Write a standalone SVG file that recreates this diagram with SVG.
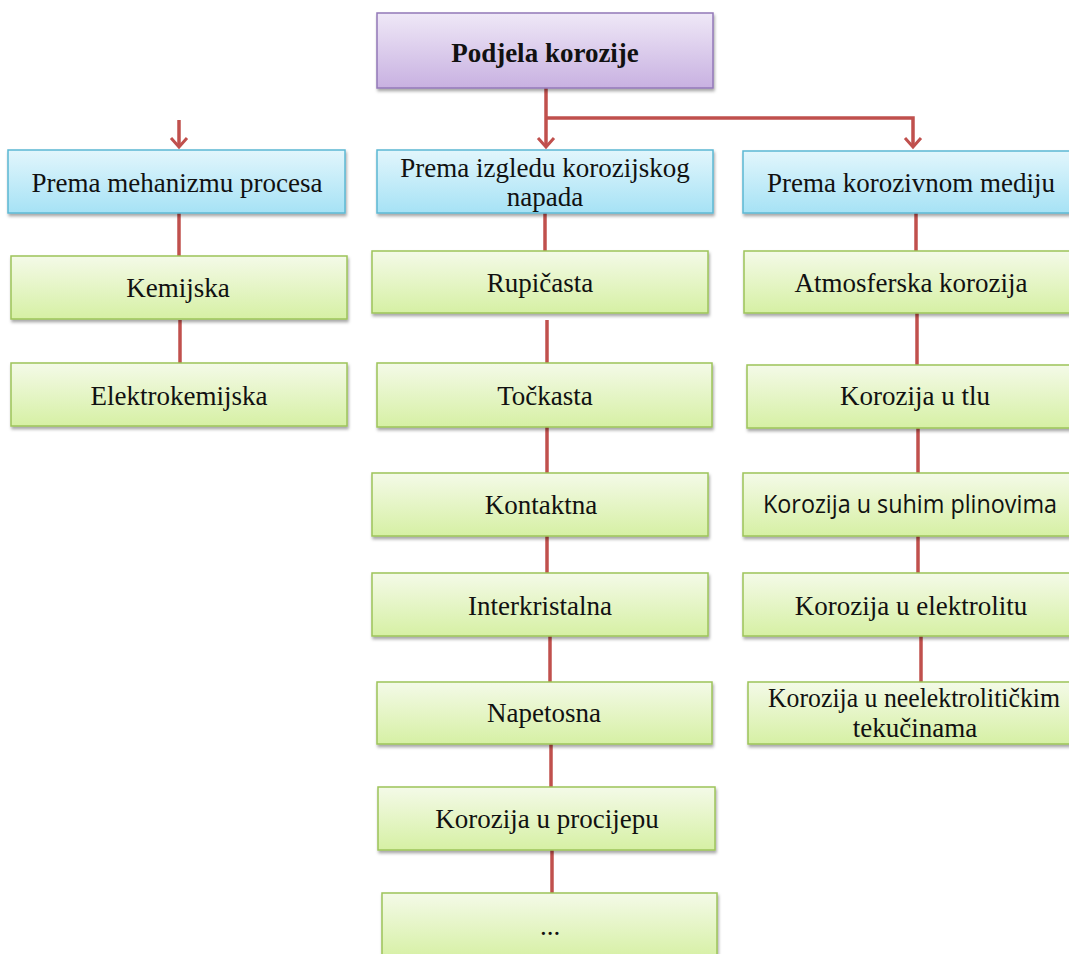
<svg xmlns="http://www.w3.org/2000/svg" width="1069" height="954" viewBox="0 0 1069 954">
<defs>
<linearGradient id="gPurple" x1="0" y1="0" x2="0" y2="1"><stop offset="0" stop-color="#efe8f7"/><stop offset="1" stop-color="#c8b1e1"/></linearGradient>
<linearGradient id="gBlue" x1="0" y1="0" x2="0" y2="1"><stop offset="0" stop-color="#e2f6fc"/><stop offset="1" stop-color="#a6e2f5"/></linearGradient>
<linearGradient id="gGreen" x1="0" y1="0" x2="0" y2="1"><stop offset="0" stop-color="#f4fae8"/><stop offset="1" stop-color="#d6f0a4"/></linearGradient>
<filter id="sh" x="-5%" y="-20%" width="110%" height="150%"><feDropShadow dx="1" dy="2.5" stdDeviation="1.5" flood-color="#000" flood-opacity="0.35"/></filter>
<marker id="arr" markerWidth="14" markerHeight="20" refX="11" refY="10" orient="auto" markerUnits="userSpaceOnUse" viewBox="0 0 14 20"><path d="M2,2 L11,10 L2,18" fill="none" stroke="#c0504d" stroke-width="3"/></marker>
</defs>
<style>
.p{fill:url(#gPurple);stroke:#9378b8;stroke-width:1.5;filter:url(#sh)}
.b{fill:url(#gBlue);stroke:#5cb8d3;stroke-width:1.5;filter:url(#sh)}
.g{fill:url(#gGreen);stroke:#9dc45a;stroke-width:1.5;filter:url(#sh)}
.t{font-family:"Liberation Serif","Times New Roman",serif;font-size:27px;fill:#111;text-anchor:middle}
.tb{font-weight:bold}
.s{font-family:"Open Sans","Liberation Sans",sans-serif;font-size:26px;fill:#111;text-anchor:middle}
.c{fill:none;stroke:#c0504d;stroke-width:3.5}
</style>
<rect width="1069" height="954" fill="#fff"/>
<g id="connectors">
<path class="c" d="M546,88 V147" marker-end="url(#arr)"/>
<path class="c" d="M546,118 H913 V147" marker-end="url(#arr)"/>
<path class="c" d="M179,120 V147" marker-end="url(#arr)"/>
<path class="c" d="M179,213 V256"/>
<path class="c" d="M180,320 V363"/>
<path class="c" d="M545,213 V251"/>
<path class="c" d="M547,320 V363"/>
<path class="c" d="M547,427 V473"/>
<path class="c" d="M547,536 V573"/>
<path class="c" d="M550,636 V682"/>
<path class="c" d="M551,744 V787"/>
<path class="c" d="M552,850 V893"/>
<path class="c" d="M916,213 V251"/>
<path class="c" d="M917,313 V365"/>
<path class="c" d="M918,428 V473"/>
<path class="c" d="M918,536 V573"/>
<path class="c" d="M921,636 V682"/>
</g>
<g id="root"><rect class="p" x="377" y="13" width="336" height="75"/><text class="t tb" x="545" y="62">Podjela korozije</text></g>
<g id="mehanizam"><rect class="b" x="8" y="150" width="337" height="63"/><text class="t" x="177" y="192">Prema mehanizmu procesa</text></g>
<g id="kemijska"><rect class="g" x="11" y="256" width="336" height="63"/><text class="t" x="178" y="297">Kemijska</text></g>
<g id="elektrokemijska"><rect class="g" x="11" y="363" width="336" height="63"/><text class="t" x="179" y="405">Elektrokemijska</text></g>
<g id="izgled"><rect class="b" x="377" y="150" width="336" height="63"/><text class="t" x="545" y="177">Prema izgledu korozijskog</text><text class="t" x="545" y="206">napada</text></g>
<g id="rupicasta"><rect class="g" x="372" y="251" width="336" height="62"/><text class="t" x="540" y="292">Rupičasta</text></g>
<g id="tockasta"><rect class="g" x="377" y="363" width="335" height="64"/><text class="t" x="545" y="405">Točkasta</text></g>
<g id="kontaktna"><rect class="g" x="372" y="473" width="336" height="63"/><text class="t" x="541" y="514">Kontaktna</text></g>
<g id="interkristalna"><rect class="g" x="372" y="573" width="336" height="63"/><text class="t" x="540" y="615">Interkristalna</text></g>
<g id="napetosna"><rect class="g" x="377" y="682" width="335" height="62"/><text class="t" x="544" y="722">Napetosna</text></g>
<g id="procijep"><rect class="g" x="378" y="787" width="337" height="63"/><text class="t" x="547" y="828">Korozija  u procijepu</text></g>
<g id="ostalo"><rect class="g" x="382" y="893" width="335" height="66"/><text class="t" x="550" y="935">...</text></g>
<g id="medij"><rect class="b" x="743" y="151" width="335" height="62"/><text class="t" x="911" y="192">Prema korozivnom mediju</text></g>
<g id="atmosferska"><rect class="g" x="744" y="251" width="335" height="62"/><text class="t" x="911" y="292">Atmosferska korozija</text></g>
<g id="tlo"><rect class="g" x="747" y="365" width="332" height="63"/><text class="t" x="915" y="405">Korozija  u tlu</text></g>
<g id="suhi"><rect class="g" x="743" y="473" width="336" height="63"/><text class="s" x="910" y="513" textLength="294" lengthAdjust="spacingAndGlyphs">Korozija u suhim plinovima</text></g>
<g id="elektrolit"><rect class="g" x="743" y="573" width="336" height="63"/><text class="t" x="911" y="615">Korozija  u elektrolitu</text></g>
<g id="neelektrolit"><rect class="g" x="748" y="682" width="331" height="62"/><text class="t" x="914" y="707" textLength="292" lengthAdjust="spacingAndGlyphs">Korozija u neelektrolitičkim</text><text class="t" x="915" y="737">tekučinama</text></g>
</svg>
